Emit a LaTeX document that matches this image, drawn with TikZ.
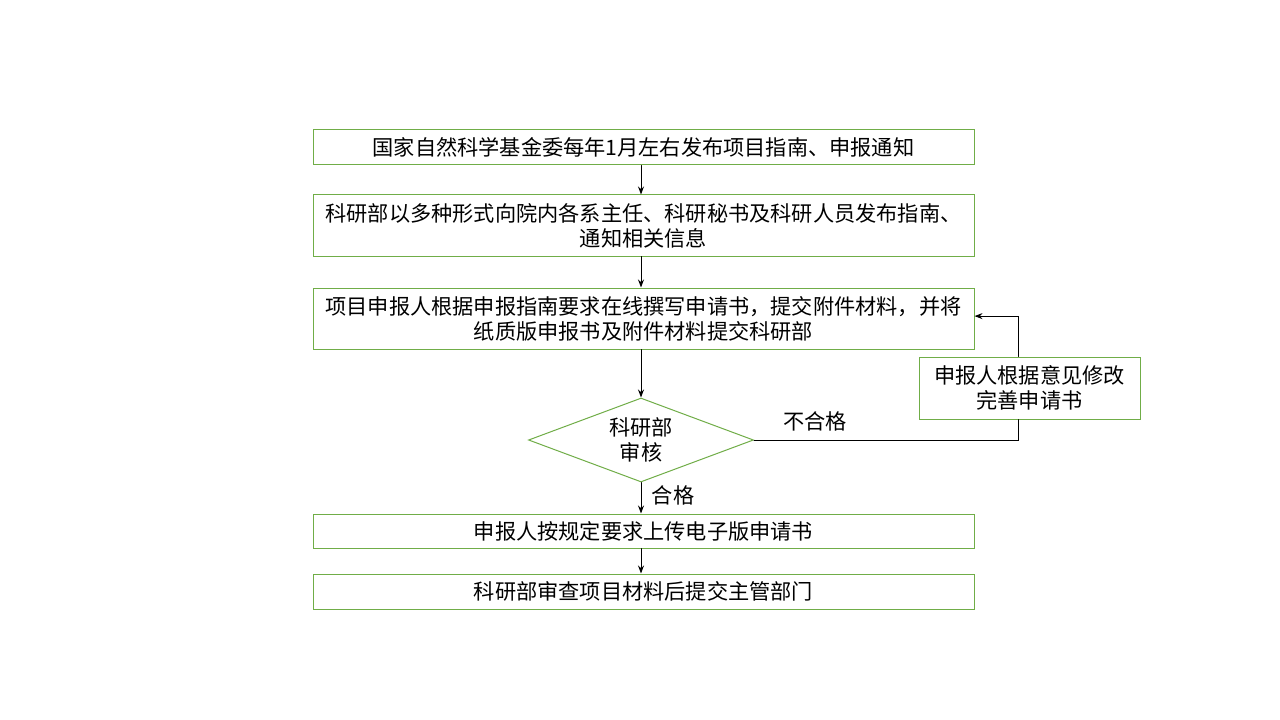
\documentclass[tikz,border=0pt]{standalone}
\usepackage{fontspec}
\setmainfont{Noto Sans CJK SC}
\usetikzlibrary{shapes.geometric, arrows.meta}
\definecolor{boxgreen}{RGB}{112,173,71}

\def\boxw{495.75pt}
\def\shift{8.6pt}

\begin{document}
\begin{tikzpicture}[x=0.75pt, y=-0.75pt,
                      >={Stealth[length=6pt,width=4.5pt]}, line cap=round,
                      line width=0.75pt,
                      every node/.style={font=\fontsize{15.9}{18.8}\selectfont},
                      box/.style={draw=boxgreen, minimum width=\boxw,
                        text width=\boxw-8pt, align=center, inner sep=0pt},
                      check/.style={diamond, draw=boxgreen, aspect=2.68,
                        inner sep=0pt, minimum width=168.75pt, minimum height=63pt,
                        align=center},
                      lbl/.style={inner sep=1pt}
                     ]

    \fill [white] (0,0) rectangle (1280,720);
    \useasboundingbox (0,0) rectangle (1280,720);

    % main column
    \node [box, minimum height=26.25pt] (notice) at (643.5,147.5)
        {国家自然科学基金委每年1月左右发布项目指南、申报通知};
    \node [box, minimum height=45.75pt] (inform) at (643.5,225.5)
        {科研部以多种形式向院内各系主任、科研秘书及科研人员发布指南、\\通知相关信息};
    \node [box, minimum height=45.75pt] (apply) at (643.5,318.5)
        {项目申报人根据申报指南要求在线撰写申请书，提交附件材料，并将\\纸质版申报书及附件材料提交科研部};
    \node [check] (audit) at (641,440) {科研部\\审核};
    \node [box, minimum height=25.5pt] (upload) at (643.5,531)
        {申报人按规定要求上传电子版申请书};
    \node [box, minimum height=26.25pt] (submit) at (643.5,591.5)
        {科研部审查项目材料后提交主管部门};

    % feedback loop
    \node [box, minimum width=165.75pt, text width=160pt, minimum height=46.5pt]
        (revise) at (1029.5,388) {申报人根据意见修改\\完善申请书};

    \draw [->] (notice.south -| audit) -- (inform.north -| audit);
    \draw [->] (inform.south -| audit) -- (apply.north -| audit);
    \draw [->] (apply.south -| audit) -- (audit.north);
    \draw [->] (audit.south) -- (upload.north -| audit);
    \draw [->] (upload.south -| audit) -- (submit.north -| audit);

    \draw (audit.east) -| ([xshift=-\shift]revise.south);
    \draw [->] ([xshift=-\shift]revise.north) |- ([yshift=1.8pt]apply.east);

    \node [lbl] (fail) at (815,421) {不合格};
    \node [lbl] (pass) at (673,495) {合格};

  \end{tikzpicture}
\end{document}
